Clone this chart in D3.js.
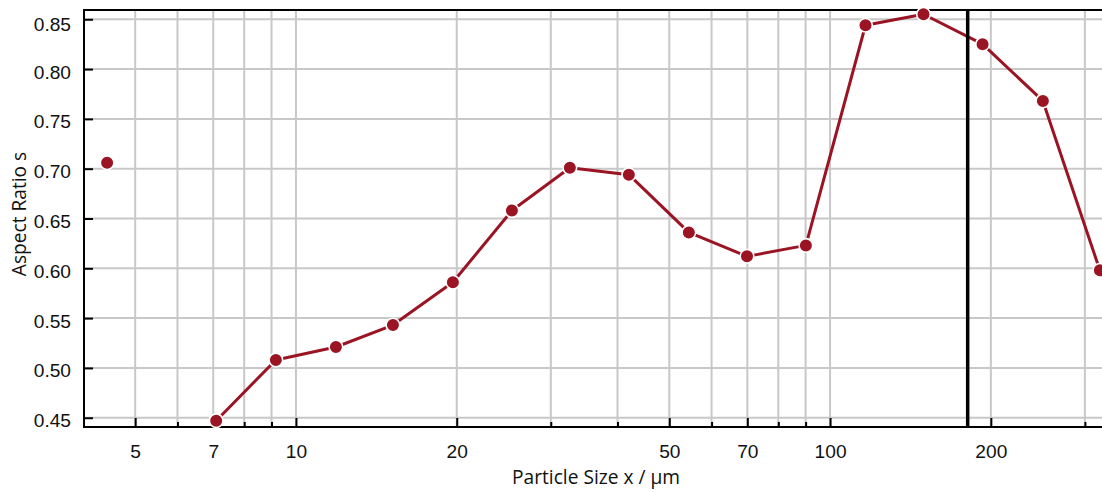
<!DOCTYPE html>
<html>
<head>
<meta charset="utf-8">
<script src="https://cdn.jsdelivr.net/npm/d3@7"></script>
<style>
  html, body { margin: 0; padding: 0; background: #fff; overflow: hidden; }
  svg { display: block; font-family: "Open Sans", "Noto Sans", sans-serif; }
</style>
</head>
<body>
<svg id="chart" width="1102" height="493"></svg>
<script>
// ---- data ----
const particleSize = [4.43, 5.6, 7.09, 9.17, 11.88, 15.19, 19.67, 25.37, 32.57, 42.0, 54.4, 69.9, 90.1, 116.5, 149.6, 193, 250.3, 320];
const aspectRatio  = [0.706, null, 0.447, 0.508, 0.521, 0.543, 0.586, 0.658, 0.701, 0.694, 0.636, 0.612, 0.623, 0.844, 0.855, 0.825, 0.768, 0.598];
const xMajorTicks = [5, 7, 10, 20, 50, 70, 100, 200];
const xMinorTicks = [6, 8, 9, 30, 40, 60, 80, 90, 300];
const yTicks = [0.45, 0.50, 0.55, 0.60, 0.65, 0.70, 0.75, 0.80, 0.85];
const markerSize = [181];
const xTitle = "Particle Size x / µm";
const yTitle = "Aspect Ratio s";

(function () {
// ---- layout ----
const W = 1102, H = 493;
const pLeft = 84, pTop = 10, pBottom = 427;
const pxPerDecade = 534.1;
const xMin = 4.01, xMax = 330;
const pRight = pLeft + Math.log10(xMax / xMin) * pxPerDecade;
const red = "#9b1423";
const grid = "#c8c8c8";

const svg = d3.select("#chart");

// fit font size so the x title spans ~168px as in the reference
const probe = svg.append("text").attr("font-size", 20).text(xTitle);
const FS = Math.min(20, 20 * 168 / probe.node().getComputedTextLength());
probe.remove();

const x = d3.scaleLog().domain([xMin, xMax]).range([pLeft, pRight]);
const y = d3.scaleLinear().domain([0.4407, 0.8593]).range([pBottom, pTop]);

// grid
const g = svg.append("g");
g.selectAll("line.vg").data(xMajorTicks.concat(xMinorTicks)).join("line")
  .attr("x1", d => x(d)).attr("x2", d => x(d)).attr("y1", pTop).attr("y2", pBottom)
  .attr("stroke", grid).attr("stroke-width", 2);
g.selectAll("line.hg").data(yTicks).join("line")
  .attr("x1", pLeft).attr("x2", W).attr("y1", d => y(d)).attr("y2", d => y(d))
  .attr("stroke", grid).attr("stroke-width", 2);

// axes
const xAxis = d3.axisBottom(x).tickValues(xMajorTicks).tickFormat(d3.format("d"))
  .tickSizeInner(-9).tickSizeOuter(0).tickPadding(18);
const gx = svg.append("g").attr("transform", `translate(0,${pBottom})`).call(xAxis);
const xAxisMinor = d3.axisBottom(x).tickValues(xMinorTicks).tickFormat("")
  .tickSizeInner(-5).tickSizeOuter(0);
const gxm = svg.append("g").attr("transform", `translate(0,${pBottom})`).call(xAxisMinor);
[gx, gxm].forEach(a => {
  a.select(".domain").remove();
  a.selectAll(".tick line").attr("stroke", "#000").attr("stroke-width", 2);
});
gx.selectAll("text").attr("font-size", FS).attr("fill", "#111").attr("font-family", null)
  .attr("dy", null).attr("y", 31);

const yAxis = d3.axisLeft(y).tickValues(yTicks).tickFormat(d3.format(".2f"))
  .tickSizeInner(-9).tickSizeOuter(0).tickPadding(13);
const gy = svg.append("g").attr("transform", `translate(${pLeft},0)`).call(yAxis);
gy.select(".domain").remove();
gy.selectAll(".tick line").attr("stroke", "#000").attr("stroke-width", 2);
gy.selectAll(".tick text").attr("font-size", FS).attr("fill", "#111").attr("font-family", null)
  .attr("dy", null)
  .attr("y", d => Math.max(9, 30.5 - y(d)));

// frame lines
svg.append("line").attr("x1", pLeft).attr("x2", pLeft).attr("y1", pTop - 1).attr("y2", pBottom + 1)
  .attr("stroke", "#000").attr("stroke-width", 2);
svg.append("line").attr("x1", pLeft - 1).attr("x2", W).attr("y1", pBottom).attr("y2", pBottom)
  .attr("stroke", "#000").attr("stroke-width", 2);
svg.append("line").attr("x1", pLeft - 1).attr("x2", W).attr("y1", pTop).attr("y2", pTop)
  .attr("stroke", "#000").attr("stroke-width", 2);

// series
const pts = particleSize.map((s, i) => ({ s, v: aspectRatio[i] }));
const line = d3.line().defined(d => d.v != null).x(d => x(d.s)).y(d => y(d.v));
svg.append("path").datum(pts).attr("d", line)
  .attr("fill", "none").attr("stroke", red).attr("stroke-width", 3).attr("stroke-linejoin", "round");

// vertical marker line
svg.selectAll("line.mk").data(markerSize).join("line")
  .attr("x1", d => x(d)).attr("x2", d => x(d)).attr("y1", pTop).attr("y2", pBottom)
  .attr("stroke", "#000").attr("stroke-width", 3.5);

svg.selectAll("circle.pt").data(pts.filter(d => d.v != null)).join("circle")
  .attr("cx", d => x(d.s)).attr("cy", d => y(d.v)).attr("r", 6.8)
  .attr("fill", red).attr("stroke", "#fff").attr("stroke-width", 1.6);

// titles
svg.append("text").attr("x", 596).attr("y", 484).attr("text-anchor", "middle")
  .attr("font-size", FS).attr("fill", "#111").text(xTitle);
svg.append("text").attr("transform", `translate(26,214) rotate(-90)`)
  .attr("text-anchor", "middle").attr("font-size", FS).attr("fill", "#111").text(yTitle);
})();
</script>
</body>
</html>
